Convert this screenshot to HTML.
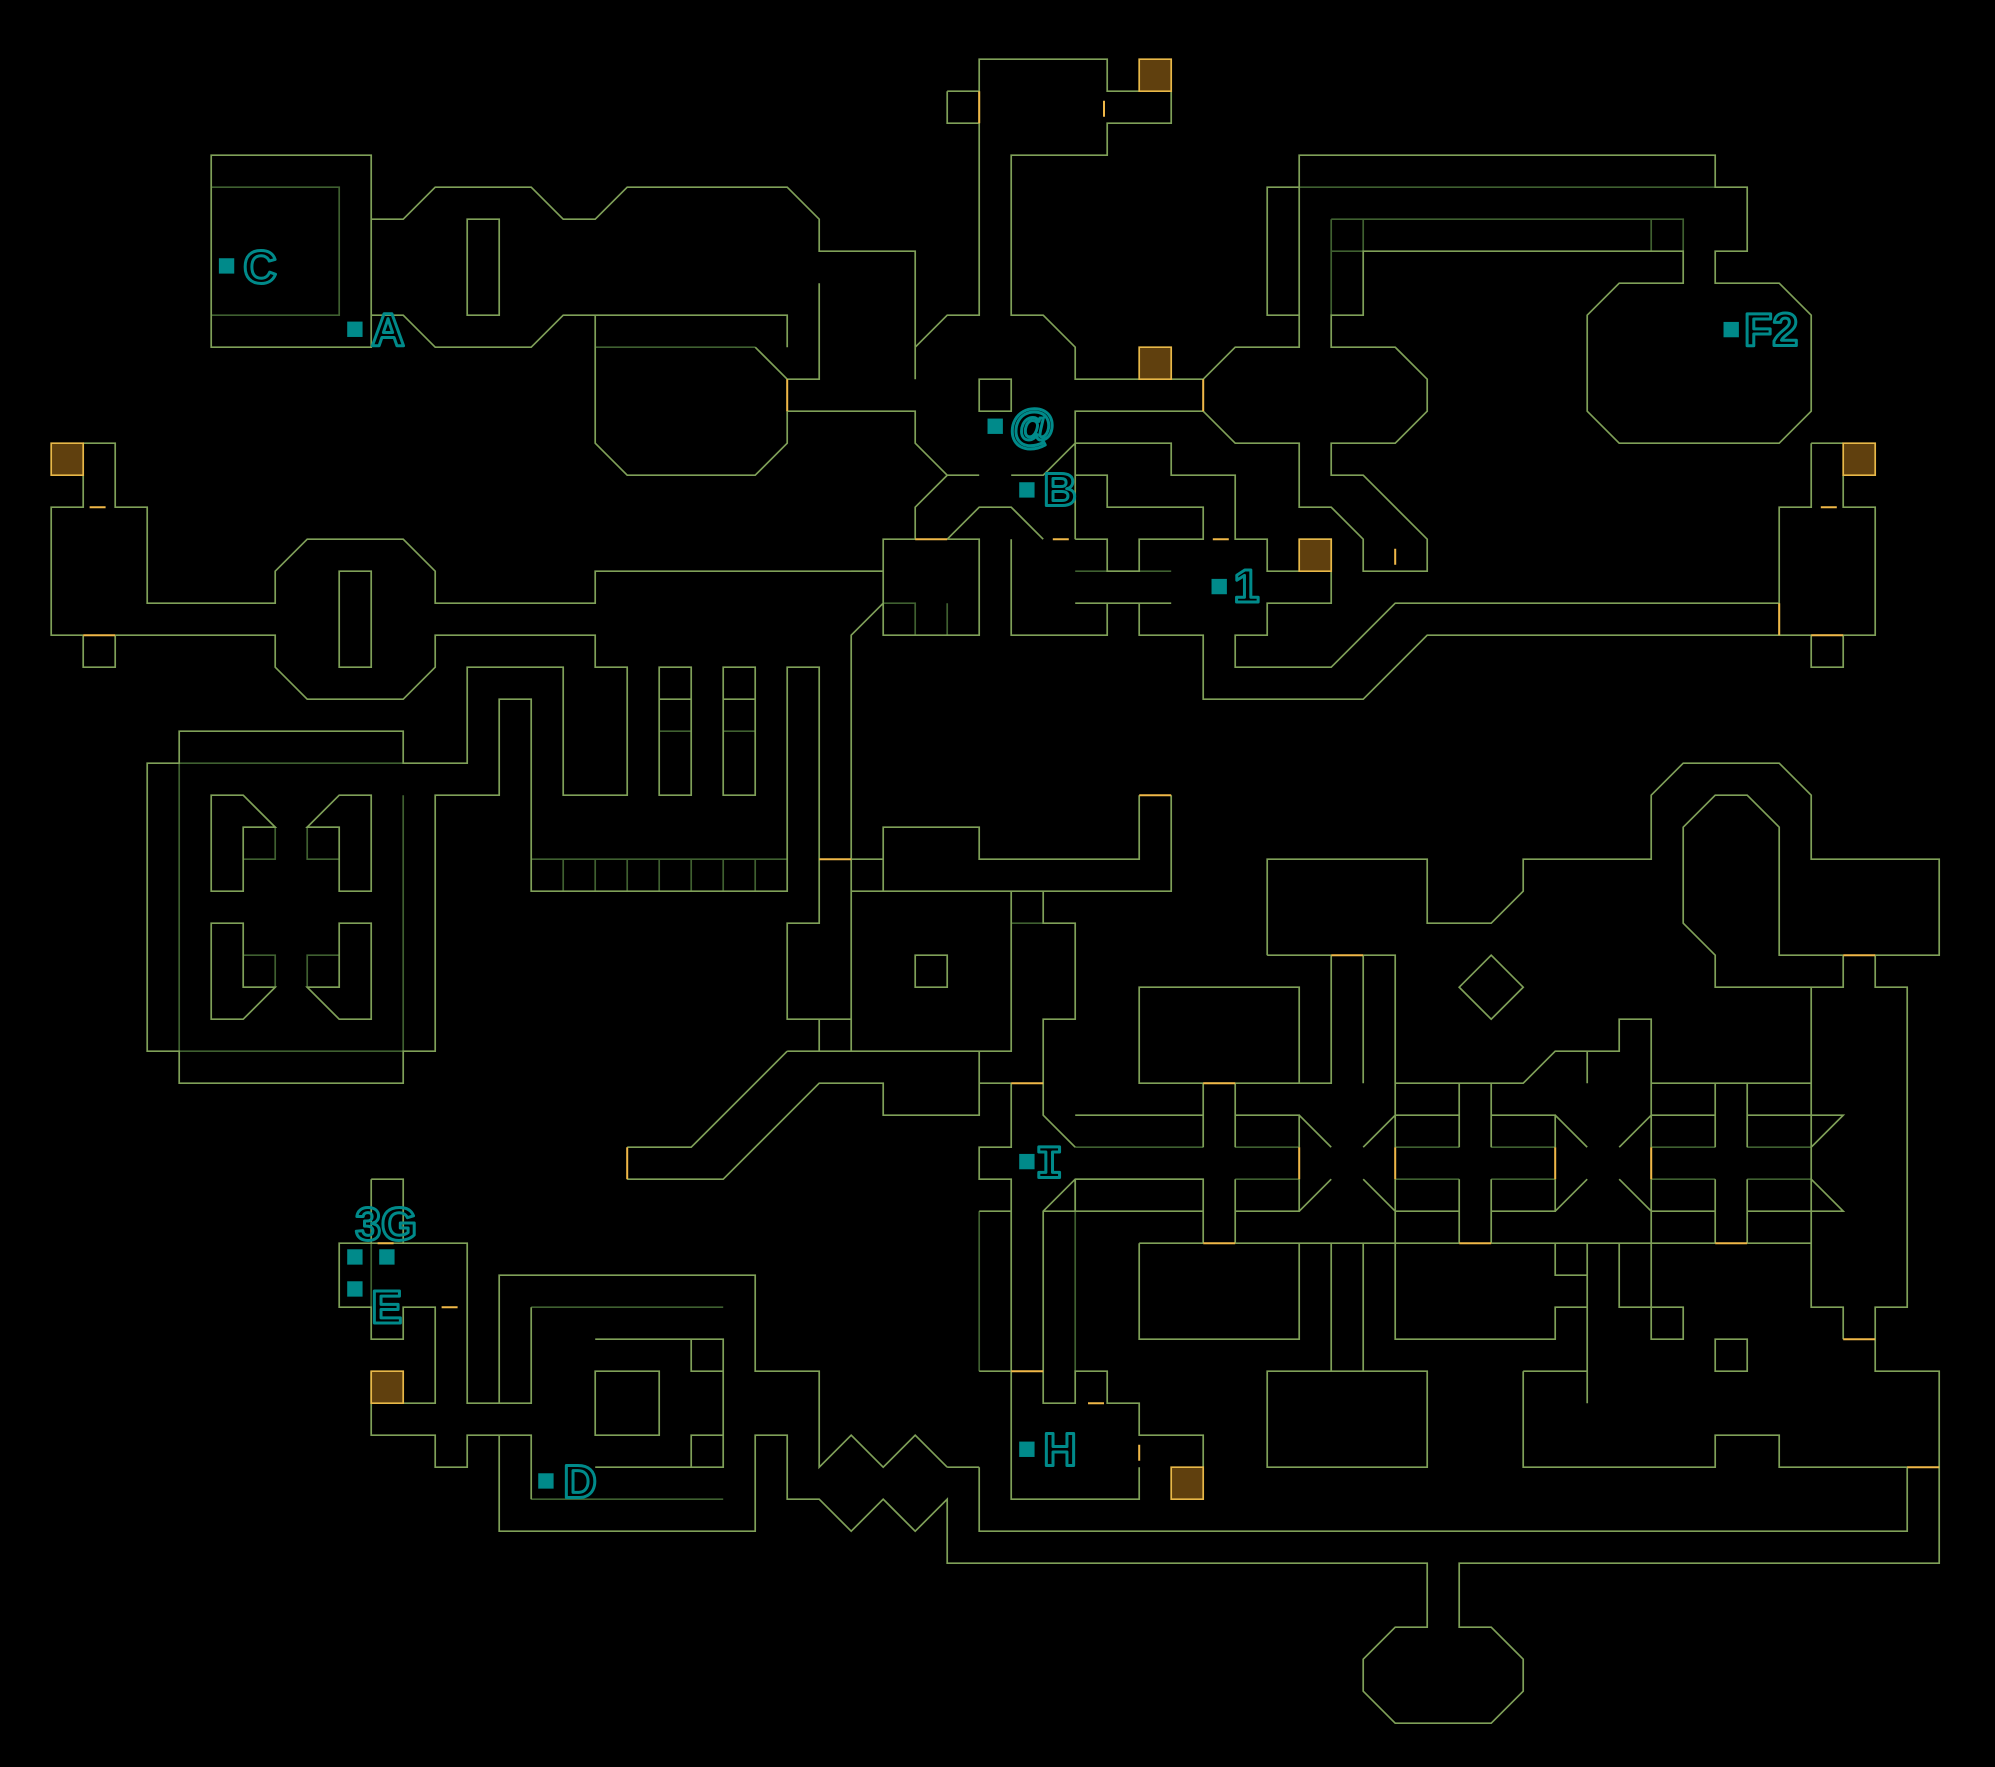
<!DOCTYPE html>
<html><head><meta charset="utf-8"><style>
html,body{margin:0;padding:0;background:#000;}
svg{display:block}
.l{fill:none;stroke:#7fa058;stroke-width:1.7;vector-effect:non-scaling-stroke;stroke-linejoin:miter}
.d{fill:none;stroke:#3f6030;stroke-width:1.7;vector-effect:non-scaling-stroke}
.o{fill:none;stroke:#f0b848;stroke-width:2;vector-effect:non-scaling-stroke}
.b{fill:#60400e;stroke:#e8b848;stroke-width:1.7;vector-effect:non-scaling-stroke}
.s{fill:#008a8a}
.t{fill:none;stroke:#008a8a;stroke-width:3;vector-effect:non-scaling-stroke;font-family:"Liberation Sans",sans-serif;font-weight:bold;font-size:1.45px;stroke-linejoin:round}
.tm{font-family:"Liberation Mono",monospace}
</style></head><body>
<svg width="1995" height="1767" viewBox="0 0 1995 1767" xmlns="http://www.w3.org/2000/svg">
<rect width="1995" height="1767" fill="#000"/>
<g transform="translate(19.2,27.2) scale(32)">
<path class="d" d="M6,5 H10 V9 H6 M18,10 H23 M5,23 H12 M5,23 V32 M12,24 V32 M5,32 H12
M16,26 H24 M17,26 V27 M18,26 V27 M19,26 V27 M20,26 V27 M21,26 V27 M22,26 V27 M23,26 V27
M20,22 H21 M22,22 H23
M7,25 H8 V26 H7 M10,25 H9 V26 H10 M7,29 H8 V30 H7 M10,29 H9 V30 H10
M41,6 H52 V7 M41,6 V9 M41,7 H42 V6 M51,6 V7 M40,5 H53
M33,17 H36 M26,17 H27 M27,18 H28 V19 M29,18 V19 M31,28 H32
M33,35 H37 M38,35 H40 M43,35 H45 M46,35 H48 M51,35 H53 M54,35 H56
M33,36 H37 M38,36 H40 M43,36 H45 M46,36 H48 M51,36 H53 M54,36 H56
M11,38 V40 M16,40 H22 M16,46 H22 M30,37 V42 M33,36 V42"/>
<path class="l" d="M6,4 H11 V10 H6 Z
M11,6 H12 L13,5 H16 L17,6 H18 L19,5 H24 L25,6 V7 H28 V11
M11,9 H12 L13,10 H16 L17,9 H18
M14,6 H15 V9 H14 Z
M18,9 H24 V10 M23,10 L24,11 H25 V8
M18,9 V13 L19,14 H23 L24,13 V12 H28 V13 L29,14 L28,15 V16 H27 V17 H18 V18 H13 V17 L12,16 H9 L8,17 V18 H4 V15 H3 V13 H2
M2,14 V15 H1 V19 H2 M3,19 H8 V20 L9,21 H12 L13,20 V19 H18 V20 H19 V24 H17 V20 H14 V23 H12 V22 H5 V23 H4 V32 H5 V33 H12 V32 H13 V24 H15 V21 H16 V27 H24 V20 H25 V28 H24 V31 H26
M2,19 V20 H3 V19
M10,17 H11 V20 H10 Z
M20,20 H21 V24 H20 Z M22,20 H23 V24 H22 Z M20,21 H21 M22,21 H23
M6,24 H7 L8,25 H7 V27 H6 Z M11,24 H10 L9,25 H10 V27 H11 Z
M6,28 H7 V30 H8 L7,31 H6 Z M11,28 H10 V30 H9 L10,31 H11 Z
M28,10 L29,9 H30 V1 H34 V2 H36 V3 H34 V4 H31 V9 H32 L33,10 V11 H37
M37,11 L38,10 H40 V4 H53 V5 H54 V7 H53 V8 H55 L56,9 V12 L55,13 H50 L49,12 V9 L50,8 H52 V7 H42 V9 H41 V10 H43 L44,11 V12 L43,13 H41 V14 H42 L44,16 V17 H42 V16 L41,15 H40 V13 H38 L37,12 H33 V16
M40,9 H39 V5 H40
M29,2 H30 M29,2 V3 H30 M30,11 H31 V12 H30 Z
M27,12 H28 M29,14 H30 M31,14 H32 L33,13
M29,16 L30,15 H31 L32,16 M29,16 H30 V19 H27 V16
M31,16 V19 H34 V18 M33,18 H36
M33,16 H34 V17 H35 V16 H37 V15 H34 V14 H33
M33,13 H36 V14 H38 V16 H39 V17 H40
M40,16 H41 V18 H39 V19 H38 V20 H41 L43,18 H55
M35,18 V19 H37 V21 H42 L44,19 H55
M27,18 L26,19 V32
M56,13 V15 H55 V19 H58 V15 H57 V14 M56,13 H57 M56,19 V20 H57 V19
M27,27 V25 H30 V26 H35 V24 M36,24 V27 H26
M26,26 H27 V27 M26,27 V32 H31 V27 M28,29 H29 V30 H28 Z
M31,27 H32 V28 H33 V31 H32 V33
M24,32 H26 M25,31 V32 M24,32 L21,35 H19 M19,36 H22 L25,33 H27 V34 H30 V33 H31 M30,32 V33
M31,33 V35 H30 V36 H31 V46 H35 V45 M37,45 V44 H35 V43 H34 V42 H33 V43 H32 V37 L33,36 H37 V38 M30,37 H31 M30,42 H31 M32,37 H37
M32,31 V34 L33,35 M33,34 H37
M37,33 V35 M38,33 V35 M38,33 H41 V29 M42,29 H43 V33 M42,29 V33 M39,29 H41
M38,34 H40 V35 M40,34 L41,35 M43,34 L42,35 M43,33 V35 M43,34 H45 V35 M45,33 V35 M46,33 V35 M46,34 H48 V35 M48,34 L49,35 M51,34 L50,35 M51,33 V35 M51,34 H53 V35 M53,33 V35 M54,33 V35 M54,34 H56 V35 M56,34 H57 L56,35
M43,33 H45 M46,33 H47 L48,32 H50 V31 H51 V33 H53 M49,32 V33 M54,33 H56 V30
M33,37 V36 M37,36 V38 M38,36 V38 M38,37 H40 V36 M40,37 L41,36 M43,37 L42,36 M43,36 V38 M43,37 H45 V36 M45,36 V38 M46,36 V38 M46,37 H48 V36 M48,37 L49,36 M51,37 L50,36 M51,36 V38 M51,37 H53 V36 M53,36 V38 M54,36 V38 M54,37 H56 V36 M56,37 H57 L56,36
M35,38 H37 M38,38 H45 M46,38 H53 M54,38 H56 V40 H57 V41 M38,33 H37 M45,33 H46 M53,33 H54
M40,33 V30 H35 V33 H37 M35,38 V41 H40 V38
M41,38 V42 M42,38 V42 M39,42 H44 V45 H39 Z
M43,38 V41 H48 V40 H49 V38 M48,38 V39 H49 M49,40 V43 M47,42 H49 M50,38 V40 H51 V41 H52 V40 H51 V38 M53,41 H54 V42 H53 Z
M58,41 V42 H60 V48 H45 V50 H46 L47,51 V52 L46,53 H43 L42,52 V51 L43,50 H44 V48 H29 V46
M30,45 V47 H59 V45 H55 V44 H53 V45 H47 V42 M29,45 H30
M39,29 V26 H44 V28 H46 L47,27 V26 H51 V24 L52,23 H55 L56,24 V26 H60 V29 H58 V30 H59 V40 H58 V41
M57,29 V30 H53 V29 L52,28 V25 L53,24 H54 L55,25 V29 H57 M56,30 V40
M46,29 L47,30 L46,31 L45,30 Z
M11,36 H12 V38 H14 V43 H15 V39 H23 V42 H25 V45 L26,44 L27,45 L28,44 L29,45
M11,38 V36 M12,38 H10 V40 H11 V41 H12 V40 H13 V43 H12
M11,42 V44 H13 V45 H14 V44 H15 V47 H23 V44 H24 V46 H25 L26,47 L27,46 L28,47 L29,46 V48
M15,43 H16 V40 M15,44 H16 V46 M18,41 H22 V45 H18 M21,41 V42 H22 M21,45 V44 H22 M18,42 H20 V44 H18 Z"/>
<path class="o" d="M30,2 V3 M24,11 V12 M37,11 V12 M33.9,2.3 V2.8 M43,16.3 V16.8 M32.3,16 H32.8 M28,16 H29 M56.3,15 H56.8 M55,18 V19 M56,19 H57
M25,26 H26 M19,35 V36 M35,24 H36 M41,29 H42 M31,33 H32 M37,33 H38 M37,38 H38 M45,38 H46 M53,38 H54
M40,35 V36 M43,35 V36 M48,35 V36 M51,35 V36 M57,41 H58 M59,45 H60 M31,42 H32 M33.4,43 H33.9 M35,44.3 V44.8
M2,19 H3 M2.2,15 H2.7 M11.2,38 H11.7 M13.2,40 H13.7 M57,29 H58 M37.3,16 H37.8"/>
<rect class="b" x="35" y="1" width="1" height="1"/>
<rect class="b" x="35" y="10" width="1" height="1"/>
<rect class="b" x="40" y="16" width="1" height="1"/>
<rect class="b" x="57" y="13" width="1" height="1"/>
<rect class="b" x="1" y="13" width="1" height="1"/>
<rect class="b" x="11" y="42" width="1" height="1"/>
<rect class="b" x="36" y="45" width="1" height="1"/>
<rect class="s" x="6.24" y="7.22" width="0.48" height="0.48"/>
<rect class="s" x="10.25" y="9.2" width="0.48" height="0.48"/>
<rect class="s" x="30.26" y="12.23" width="0.48" height="0.48"/>
<rect class="s" x="31.25" y="14.22" width="0.48" height="0.48"/>
<rect class="s" x="37.26" y="17.24" width="0.48" height="0.48"/>
<rect class="s" x="53.26" y="9.21" width="0.48" height="0.48"/>
<rect class="s" x="10.25" y="38.19" width="0.48" height="0.48"/>
<rect class="s" x="11.25" y="38.19" width="0.48" height="0.48"/>
<rect class="s" x="10.25" y="39.19" width="0.48" height="0.48"/>
<rect class="s" x="16.22" y="45.19" width="0.48" height="0.48"/>
<rect class="s" x="31.25" y="35.21" width="0.48" height="0.48"/>
<rect class="s" x="31.25" y="44.2" width="0.48" height="0.48"/>
<text class="t" x="7.0" y="8.0">C</text>
<text class="t" x="11.0" y="9.95">A</text>
<text class="t" x="30.95" y="12.95">@</text>
<text class="t" x="32.0" y="14.95">B</text>
<text class="t" x="37.95" y="17.97">1</text>
<text class="t" x="53.9" y="9.95">F2</text>
<text class="t" x="10.5" y="37.9">3G</text>
<text class="t" x="11.0" y="40.5">E</text>
<text class="t" x="17.0" y="45.95">D</text>
<text class="t tm" x="31.75" y="35.95">I</text>
<text class="t" x="32.0" y="44.95">H</text>
</g>
</svg>
</body></html>
